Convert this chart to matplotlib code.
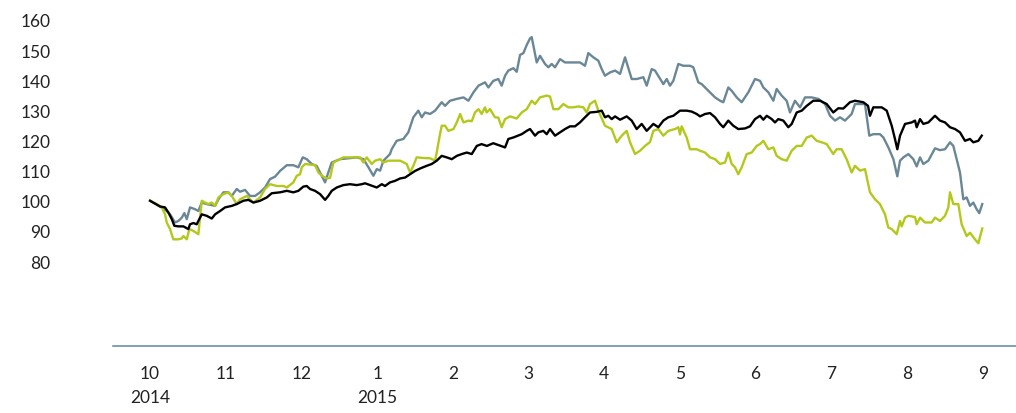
import matplotlib
matplotlib.use("Agg")
import matplotlib.pyplot as plt

# x positions are months since start of Oct 2014 (0 = Oct, 11 = Sep 2015)
t_black = [0, 0.132, 0.198, 0.242, 0.287, 0.321, 0.374, 0.44, 0.506, 0.528, 0.572, 0.617, 0.638,
           0.683, 0.749, 0.815, 0.859, 0.925, 0.991, 1.079, 1.145, 1.232, 1.299, 1.365, 1.453,
           1.542, 1.608, 1.717, 1.806, 1.893, 1.959, 2.025, 2.07, 2.114, 2.18, 2.246, 2.312,
           2.355, 2.4, 2.466, 2.554, 2.642, 2.731, 2.797, 2.84, 2.906, 2.995, 3.061, 3.104,
           3.17, 3.236, 3.303, 3.369, 3.435, 3.501, 3.567, 3.655, 3.721, 3.787, 3.853, 3.919,
           3.986, 4.052, 4.118, 4.184, 4.25, 4.316, 4.379, 4.45, 4.534, 4.69, 4.733, 4.799,
           4.91, 4.976, 5.02, 5.086, 5.129, 5.195, 5.24, 5.284, 5.35, 5.416, 5.482, 5.548,
           5.614, 5.68, 5.746, 5.812, 5.9, 5.967, 6.01, 6.054, 6.099, 6.143, 6.209, 6.297,
           6.363, 6.429, 6.495, 6.561, 6.649, 6.715, 6.781, 6.847, 6.913, 7.001, 7.089, 7.155,
           7.221, 7.266, 7.332, 7.398, 7.464, 7.53, 7.573, 7.639, 7.705, 7.771, 7.86, 7.926,
           7.992, 8.058, 8.102, 8.147, 8.213, 8.256, 8.3, 8.366, 8.432, 8.477, 8.543, 8.609,
           8.675, 8.762, 8.851, 8.939, 9.026, 9.092, 9.158, 9.247, 9.313, 9.423, 9.485, 9.511,
           9.555, 9.666, 9.732, 9.798, 9.841, 9.872, 9.908, 9.974, 10.062, 10.106, 10.128,
           10.172, 10.216, 10.282, 10.37, 10.436, 10.502, 10.568, 10.634, 10.7, 10.766,
           10.832, 10.876, 10.942, 10.987]
v_black = [100, 98.1, 97.8, 96.1, 93.9, 91.7, 91.5, 91.5, 90.6, 92.2, 92.6, 92.2, 93.3,
           95.5, 95.0, 94.1, 95.5, 96.6, 97.8, 98.3, 98.9, 100.0, 100.3, 99.4, 100.0,
           101.1, 102.5, 102.8, 103.3, 102.8, 103.3, 104.7, 104.9, 103.9, 103.3, 102.2, 100.3,
           101.6, 103.3, 104.4, 105.2, 105.5, 105.2, 105.5, 105.8, 105.2, 104.4, 105.5, 104.9,
           106.1, 106.6, 107.4, 107.7, 108.8, 109.9, 110.7, 111.6, 112.2, 113.3, 114.9, 114.4,
           113.8, 114.9, 115.5, 116.0, 115.5, 118.2, 118.8, 118.2, 119.1, 117.7, 120.5, 121.0,
           122.1, 123.2, 123.8, 121.6, 122.7, 123.2, 122.1, 123.8, 121.6, 122.7, 123.8, 124.7,
           124.7, 126.0, 127.7, 129.3, 129.5, 129.9, 127.7, 128.2, 127.1, 128.0, 126.9, 128.0,
           126.6, 123.8, 125.5, 123.2, 125.5, 124.4, 126.6, 127.7, 128.2, 129.9, 129.9, 129.6,
           128.8, 128.0, 128.8, 129.1, 127.7, 125.5, 124.4, 126.6, 124.9, 123.8, 124.0, 124.7,
           127.1, 128.2, 126.9, 128.2, 127.1, 126.0, 127.1, 126.6, 124.4, 125.5, 129.3, 129.9,
           131.5, 133.2, 133.2, 132.1, 129.3, 130.7, 130.6, 132.7, 133.2, 132.7, 131.5, 128.2,
           131.0, 131.0, 129.9, 124.9, 120.5, 117.1, 121.6, 125.5, 126.0, 126.6, 124.4,
           127.1, 125.5, 126.0, 128.2, 126.6, 126.0, 124.4, 123.8, 122.7, 119.9,
           120.5, 119.4, 119.9, 121.6]

t_grey = [0, 0.132, 0.22, 0.264, 0.33, 0.374, 0.419, 0.453, 0.485, 0.528, 0.594, 0.638, 0.683,
          0.749, 0.859, 0.903, 0.969, 1.035, 1.079, 1.145, 1.189, 1.255, 1.321, 1.387, 1.453,
          1.519, 1.585, 1.651, 1.717, 1.806, 1.893, 1.959, 2.017, 2.07, 2.136, 2.2, 2.268,
          2.312, 2.355, 2.4, 2.51, 2.731, 2.82, 2.885, 2.95, 2.995, 3.039, 3.083, 3.17, 3.192,
          3.258, 3.346, 3.412, 3.478, 3.544, 3.589, 3.633, 3.699, 3.765, 3.853, 3.897, 3.963,
          4.052, 4.14, 4.206, 4.273, 4.339, 4.425, 4.469, 4.535, 4.601, 4.645, 4.69, 4.733,
          4.799, 4.844, 4.888, 4.932, 4.976, 5.02, 5.042, 5.108, 5.152, 5.218, 5.262, 5.306,
          5.35, 5.416, 5.482, 5.57, 5.68, 5.746, 5.79, 5.856, 5.922, 5.967, 6.01, 6.077, 6.143,
          6.209, 6.275, 6.363, 6.429, 6.517, 6.561, 6.627, 6.671, 6.781, 6.825, 6.869, 6.913,
          6.979, 7.045, 7.133, 7.177, 7.199, 7.243, 7.288, 7.332, 7.42, 7.464, 7.53, 7.573,
          7.639, 7.684, 7.75, 7.816, 7.904, 7.992, 8.058, 8.102, 8.168, 8.234, 8.278, 8.344,
          8.41, 8.454, 8.52, 8.587, 8.653, 8.741, 8.829, 8.917, 8.983, 9.049, 9.115, 9.181,
          9.269, 9.313, 9.445, 9.502, 9.555, 9.643, 9.688, 9.754, 9.82, 9.872, 9.908, 9.952,
          10.018, 10.084, 10.128, 10.172, 10.216, 10.282, 10.37, 10.436, 10.502, 10.568,
          10.612, 10.656, 10.7, 10.744, 10.788, 10.832, 10.876, 10.92, 10.955, 10.994]
v_grey = [100, 98.1, 96.6, 95.5, 92.8, 93.3, 94.4, 95.9, 93.9, 97.8, 97.2, 96.6, 99.4,
          98.9, 98.3, 100.5, 102.8, 102.8, 101.6, 103.9, 103.0, 103.6, 101.6, 101.6, 102.8,
          104.4, 107.2, 108.0, 109.9, 111.8, 111.8, 111.1, 114.4, 113.8, 112.2, 111.6, 108.3,
          106.1, 109.4, 112.7, 113.8, 114.4, 113.8, 111.1, 108.3, 110.5, 110.0, 113.3, 115.5, 117.1,
          119.9, 120.5, 122.7, 127.7, 129.9, 127.7, 129.3, 128.8, 129.9, 132.7, 131.5, 133.2,
          133.8, 134.3, 133.2, 136.0, 138.2, 139.3, 137.6, 139.8, 140.4, 138.2, 141.5, 143.2,
          144.0, 142.8, 148.4, 149.0, 151.7, 153.9, 154.3, 145.9, 148.1, 145.4, 144.3, 145.4,
          144.3, 147.0, 145.9, 145.9, 145.9, 144.8, 149.0, 147.6, 146.5, 143.7, 141.5, 142.6, 143.2,
          142.1, 147.6, 140.4, 140.4, 141.0, 138.2, 143.7, 143.2, 138.7, 140.4, 138.2, 139.8,
          145.4, 144.8, 144.8, 144.3, 142.6, 139.3, 138.7, 137.6, 135.4, 134.3, 133.2, 132.7,
          137.6, 136.5, 134.3, 132.7, 136.0, 140.4, 139.8, 137.6, 136.0, 133.2, 137.1, 134.9,
          133.2, 129.3, 133.2, 131.0, 134.3, 134.3, 133.8, 132.1, 128.2, 126.6, 127.7, 126.6,
          128.8, 132.1, 132.1, 121.6, 122.1, 122.1, 121.0, 117.7, 113.8, 108.1, 113.3, 114.4,
          115.5, 113.8, 111.4, 114.4, 112.2, 113.3, 117.4, 116.8, 117.1, 119.4,
          118.2, 113.8, 109.4, 100.5, 101.1, 98.3, 99.4, 97.2, 95.9, 98.9]

t_green = [0, 0.088, 0.154, 0.198, 0.22, 0.264, 0.307, 0.374, 0.419, 0.44, 0.485, 0.519, 0.572,
           0.638, 0.683, 0.727, 0.771, 0.815, 0.859, 0.903, 0.969, 1.035, 1.079, 1.145, 1.189,
           1.277, 1.365, 1.453, 1.519, 1.585, 1.674, 1.762, 1.806, 1.893, 1.938, 1.982, 2.004,
           2.048, 2.114, 2.18, 2.224, 2.268, 2.334, 2.378, 2.422, 2.51, 2.554, 2.774, 2.818,
           2.862, 2.928, 2.972, 3.039, 3.083, 3.149, 3.303, 3.391, 3.435, 3.478, 3.522, 3.611,
           3.699, 3.765, 3.787, 3.822, 3.853, 3.897, 3.941, 4.008, 4.052, 4.096, 4.14, 4.206,
           4.25, 4.293, 4.339, 4.381, 4.425, 4.447, 4.491, 4.557, 4.601, 4.645, 4.69, 4.756,
           4.844, 4.91, 4.976, 5.042, 5.086, 5.152, 5.24, 5.284, 5.328, 5.394, 5.46, 5.526,
           5.592, 5.658, 5.724, 5.768, 5.812, 5.878, 5.922, 6.01, 6.099, 6.165, 6.231, 6.297,
           6.341, 6.407, 6.473, 6.539, 6.605, 6.649, 6.715, 6.781, 6.847, 6.935, 6.979, 7.001,
           7.023, 7.089, 7.133, 7.221, 7.266, 7.332, 7.398, 7.464, 7.53, 7.596, 7.639, 7.684,
           7.728, 7.771, 7.816, 7.882, 7.948, 8.014, 8.058, 8.102, 8.168, 8.234, 8.278, 8.344,
           8.41, 8.477, 8.543, 8.609, 8.675, 8.741, 8.807, 8.873, 8.939, 9.026, 9.07, 9.136,
           9.202, 9.269, 9.313, 9.379, 9.445, 9.511, 9.577, 9.643, 9.709, 9.753, 9.798, 9.864,
           9.908, 9.93, 9.974, 10.018, 10.106, 10.128, 10.172, 10.238, 10.326, 10.37, 10.436,
           10.502, 10.546, 10.568, 10.612, 10.678, 10.722, 10.788, 10.832, 10.898, 10.942, 10.994]
v_green = [100, 98.9, 97.8, 95.5, 92.8, 90.6, 87.2, 87.2, 87.5, 88.3, 87.2, 90.6, 90.0,
           88.9, 100.0, 99.4, 98.9, 99.4, 98.3, 101.1, 102.2, 102.8, 101.6, 98.9, 100.5,
           101.6, 99.4, 101.1, 103.9, 105.5, 104.9, 104.9, 104.4, 106.1, 108.3, 108.8, 111.1,
           112.2, 112.0, 111.8, 109.4, 108.3, 107.4, 107.6, 112.7, 113.8, 114.4, 114.4, 112.7,
           114.4, 112.2, 113.3, 113.8, 112.7, 113.3, 113.3, 112.2, 109.4, 111.6, 114.4, 114.2,
           114.1, 113.3, 116.0, 121.0, 124.9, 124.9, 123.2, 123.8, 126.0, 128.8, 126.0, 126.6,
           126.4, 129.3, 130.4, 128.8, 131.0, 129.3, 130.4, 127.7, 127.6, 124.4, 127.1, 128.0,
           127.3, 129.3, 130.4, 133.2, 132.1, 134.3, 134.9, 134.6, 130.4, 130.4, 132.1, 131.0,
           131.0, 131.3, 131.0, 129.3, 132.1, 133.2, 129.9, 124.9, 123.8, 119.4, 121.6, 123.2,
           119.4, 115.5, 116.6, 118.2, 119.5, 123.2, 123.8, 121.6, 123.2, 123.8, 124.4, 122.0,
           124.7, 121.0, 117.1, 117.1, 116.6, 116.0, 114.4, 113.8, 112.2, 112.7, 116.0, 112.2,
           111.1, 108.8, 111.1, 115.5, 116.0, 118.2, 118.8, 119.9, 117.1, 117.7, 114.9, 113.8,
           113.3, 116.6, 118.2, 118.2, 121.0, 121.6, 119.9, 119.4, 118.8, 115.5, 117.1, 117.1,
           113.8, 109.4, 111.6, 110.0, 110.5, 102.8, 100.5, 98.9, 95.5, 91.1, 90.6, 88.9,
           93.3, 91.5, 94.4, 95.0, 94.6, 92.2, 94.4, 92.8, 92.8, 94.4, 93.3,
           95.0, 97.8, 102.8, 98.9, 98.9, 92.2, 88.3, 89.4, 87.2, 85.9, 90.8]

month_labels = ["10\n2014", "11", "12", "1\n2015", "2", "3", "4", "5", "6", "7", "8", "9"]
y_ticks = [80, 90, 100, 110, 120, 130, 140, 150, 160]

plt.rcParams['font.family'] = ['Lato', 'DejaVu Sans']

fig = plt.figure(figsize=(10.16, 4.14), dpi=100)
ax = fig.add_axes([0.1112, 0.1618, 0.8888, 0.8116])

ax.plot(t_grey, v_grey, color='#6a8797', lw=1.7)
ax.plot(t_green, v_green, color='#b4c81c', lw=1.7)
ax.plot(t_black, v_black, color='black', lw=1.7)

ax.set_xlim(-0.49, 11.44)
ax.set_ylim(51.8, 163.3)
ax.set_xticks(range(len(month_labels)))
ax.set_xticklabels(month_labels, linespacing=1.55)
ax.set_yticks(y_ticks)
ax.tick_params(axis='both', length=0, labelsize=12.5, colors='#222222')
ax.tick_params(axis='y', pad=45)
ax.tick_params(axis='x', pad=14)
for lab in ax.get_xticklabels():
    lab.set_verticalalignment('top')

for s in ['top', 'right', 'left']:
    ax.spines[s].set_visible(False)
ax.spines['bottom'].set_color('#5b87a6')
ax.spines['bottom'].set_linewidth(1.1)

fig.savefig('out.png', dpi=100)
